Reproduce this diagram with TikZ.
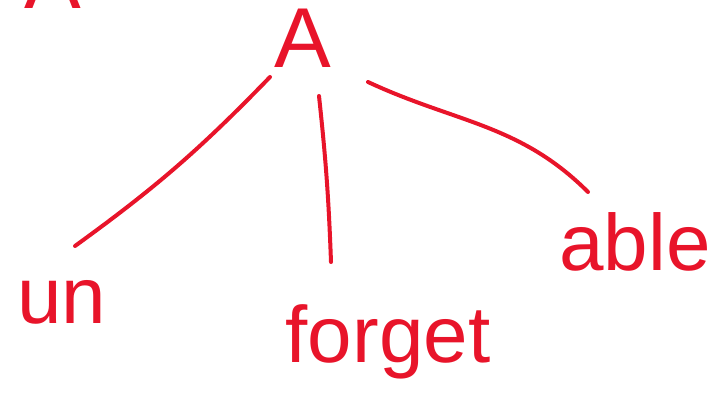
\documentclass[tikz,border=0pt]{standalone}
\usepackage{fontspec}
\setmainfont{Liberation Sans}
\definecolor{inkred}{RGB}{232,20,42}
\tikzset{
    word/.style={inner sep=0pt, anchor=base, text=inkred,
        font=\fontsize{80}{96}\selectfont},
    link/.style={inkred, line width=4pt, line cap=round}
}
\begin{document}
\begin{tikzpicture}[x=1pt, y=1pt]
    % 1. Khung hinh
    \useasboundingbox (0,0) rectangle (718,408);
    \clip (0,0) rectangle (718,408);

    % 2. Cac chu
    \node[word, font=\fontsize{85}{100}\selectfont] (topA) at (303,340) {A};
    \node[word, font=\fontsize{85}{100}\selectfont] (cutA) at (53,399) {A};
    \node[word] (un) at (62,85) {un};
    \node[word] (forget) at (388,46) {forget};
    \node[word] (able) at (635,138) {able};

    % 3. Cac nhanh
    \draw[link] ([shift={(-33,-9)}]topA.base) to[bend left=5] ([shift={(13,77)}]un.base);
    \draw[link] ([shift={(16,-28)}]topA.base) to[bend left=2] ([shift={(-57,100)}]forget.base);
    \draw[link] ([shift={(65,-14)}]topA.base) to[out=-25, in=135] ([shift={(-47,78)}]able.base);
\end{tikzpicture}
\end{document}
